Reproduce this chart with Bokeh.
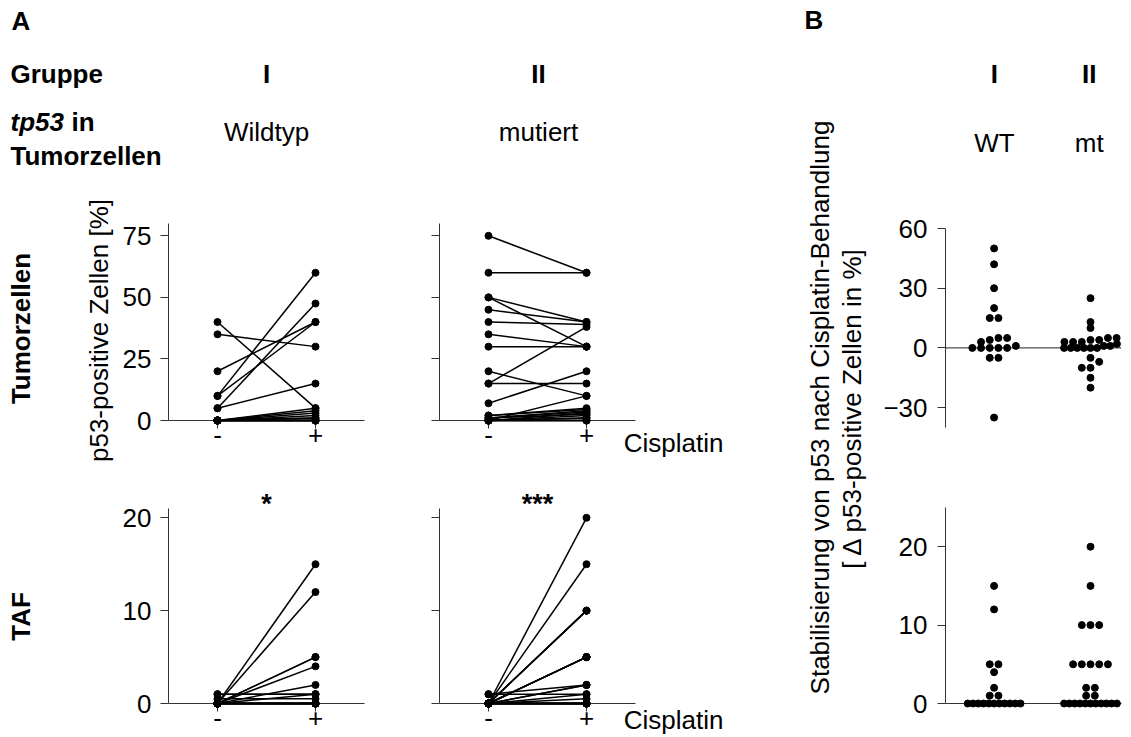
import math
from bokeh.plotting import figure
from bokeh.layouts import row, column
from bokeh.models import Range1d, FixedTicker, Span, ColumnDataSource
from bokeh.core.properties import value
from bokeh.embed import file_html
from bokeh.resources import INLINE

FONT = "Liberation Sans"

# ---------------- data ----------------
conditions = ["-", "+"]
groups = ["I", "II"]
group_tp53 = ["Wildtyp", "mutiert"]
group_short = ["WT", "mt"]

tumor_wt_before = [40, 35, 20, 10, 10, 5, 5, 0, 0, 0, 0, 0, 0, 0, 0, 0, 0, 0, 0]
tumor_wt_after = [5, 30, 40, 60, 40, 47.5, 15, 5, 4, 3, 2, 1, 1, 0, 0, 0, 0, 0, 0]
tumor_mt_before = [75, 60, 50, 50, 45, 40, 35, 30, 20, 15, 15, 7, 2, 2, 1, 1, 1, 0, 0, 0, 0, 0, 0, 0, 0]
tumor_mt_after = [60, 60, 40, 30, 40, 39, 30, 30, 10, 38, 15, 20, 5, 4.5, 3.5, 4, 2.5, 10, 3, 2, 1, 1, 0, 0, 0]
taf_wt_before = [0, 0, 0, 0, 0, 0, 0, 1, 1, 0.5, 0, 0, 0, 0, 0, 0, 0, 0, 0]
taf_wt_after = [15, 12, 5, 5, 4, 2, 1, 1, 1, 0.5, 0, 0, 0, 0, 0, 0, 0, 0, 0]
taf_mt_before = [0, 0, 0, 0, 0, 0, 0, 0, 0, 0, 0, 0, 1, 0, 1, 0, 0, 0, 0, 0, 0, 0, 0, 0, 0]
taf_mt_after = [20, 15, 10, 10, 10, 5, 5, 5, 5, 5, 2, 2, 1, 1, 2, 0.5, 0, 0, 0, 0, 0, 0, 0, 0, 0]

delta_tumor_wt = [50, 42, 30, 20, 15, 15, 5, 5, 4, 3, 1, 0, 0, 0, 0, 0, -5, -5, -35]
delta_tumor_mt = [25, 13, 10, 5, 5, 4, 4, 3, 3, 3, 2, 1, 1, 0, 0, 0, 0, 0, 0, -5, -7, -10, -10, -15, -20]
delta_taf_wt = [15, 12, 5, 5, 4, 2, 1, 1, 0, 0, 0, 0, 0, 0, 0, 0, 0, 0, 0]
delta_taf_mt = [20, 15, 10, 10, 10, 5, 5, 5, 5, 5, 2, 2, 1, 1, 0, 0, 0, 0, 0, 0, 0, 0, 0, 0, 0]

significance = ["*", "***"]

tumor_ticks = [0, 25, 50, 75]
taf_ticks = [0, 10, 20]
delta_tumor_ticks = [-30, 0, 30, 60]
delta_taf_ticks = [0, 10, 20]

AXC = "#333333"
ROT = math.pi / 2
BASE_FIX = 10  # the text glyph draws "alphabetic" text about this many px lower than its anchor


def text_canvas(x0, x1, y0, y1, bl=0, br=0):
    # frame coordinates equal page pixels (y negated so the range is not inverted)
    p = figure(width=x1 - x0 + bl + br, height=y1 - y0, x_range=Range1d(x0, x1), y_range=Range1d(-y1, -y0),
               output_backend="svg", toolbar_location=None, title=None,
               min_border_left=bl, min_border_right=br, min_border_top=0, min_border_bottom=0,
               x_axis_type=None, y_axis_type=None)
    p.outline_line_color = None
    return p


def put(p, x, y, s, size=26, style="normal", align="left", angle=0.0, baseline="alphabetic"):
    if baseline == "alphabetic":
        y -= BASE_FIX
    p.text(x=[x], y=[-y], text=[s], text_font=value(FONT), text_font_size=f"{size}px",
           text_font_style=style, text_align=align, text_baseline=baseline,
           angle=angle, text_color="black")


def free_text(p, x, y, s, size=26, style="normal", align="left"):
    # text glyph drawn on the overlay level so that it is not clipped to the frame
    r = p.text(x=[x], y=[y], text=[s], text_font=value(FONT), text_font_size=f"{size}px",
               text_font_style=style, text_align=align, text_baseline="alphabetic", text_color="black")
    r.level = "overlay"
    return r


def style_axes(p):
    p.grid.visible = False
    p.outline_line_color = None
    for ax in p.axis:
        ax.axis_line_color = AXC
        ax.axis_line_width = 1
        ax.major_tick_line_color = AXC
        ax.major_tick_out = 8
        ax.major_tick_in = 0
        ax.minor_tick_line_color = None
        ax.major_label_text_font = FONT
        ax.major_label_text_font_size = "26px"
        ax.major_label_text_color = "black"


def paired_panel(before, after, yr, ticks, width, height, mb, show_labels):
    p = figure(width=width, height=height, x_range=Range1d(-0.5, 1.5), y_range=Range1d(*yr),
               output_backend="svg", toolbar_location=None, title=None,
               min_border_left=mb[0], min_border_right=mb[1], min_border_top=mb[2],
               min_border_bottom=mb[3])
    style_axes(p)
    src = ColumnDataSource(dict(x0=[0] * len(before), x1=[1] * len(after), b=before, a=after))
    seg = p.segment(x0="x0", y0="b", x1="x1", y1="a", source=src, line_color="black", line_width=1.5)
    s1 = p.scatter(x="x0", y="b", source=src, size=7, color="black")
    s2 = p.scatter(x="x1", y="a", source=src, size=7, color="black")
    for r in (seg, s1, s2):
        r.level = "overlay"
    p.xaxis.ticker = FixedTicker(ticks=[0, 1])
    p.xaxis.major_label_overrides = {0: conditions[0], 1: conditions[1]}
    p.xaxis.major_label_standoff = -3
    p.yaxis.ticker = FixedTicker(ticks=ticks)
    p.yaxis.major_label_standoff = 9
    if not show_labels:
        p.yaxis.major_label_overrides = {t: "" for t in ticks}
    return p


def row_offsets(vals, px_y, px_x, bin_px=9.0, sp=8.9, max_w=54.0):
    # column scatter: values grouped into rows, each row centred on its category
    bins = {}
    for i, v in enumerate(vals):
        bins.setdefault(round(v * px_y / bin_px), []).append(i)
    offs = [0.0] * len(vals)
    for idx in bins.values():
        idx = sorted(idx, key=lambda i: vals[i])
        n = len(idx)
        step = sp if n < 2 else min(sp, max_w / (n - 1))
        for k, i in enumerate(idx):
            offs[i] = (k - (n - 1) / 2) * step / px_x
    return offs


BX0, BX1 = -0.504, 1.3215


def delta_panel(wt, mt, yr, ticks, height, mb, zero_axis):
    p = figure(width=251, height=height, x_range=Range1d(BX0, BX1), y_range=Range1d(*yr),
               output_backend="svg", toolbar_location=None, title=None,
               min_border_left=mb[0], min_border_right=mb[1], min_border_top=mb[2],
               min_border_bottom=mb[3])
    style_axes(p)
    frame_h = height - mb[2] - mb[3]
    frame_w = 251 - mb[0] - mb[1]
    px_y = frame_h / (yr[1] - yr[0])
    px_x = frame_w / (BX1 - BX0)
    xs, ys = [], []
    for gi, vals in enumerate((wt, mt)):
        offs = row_offsets(vals, px_y, px_x)
        xs += [gi + o for o in offs]
        ys += list(vals)
    if zero_axis:
        p.xaxis.visible = False
        p.add_layout(Span(location=0, dimension="width", line_color="#222222", line_width=1))
    else:
        p.xaxis.ticker = FixedTicker(ticks=[0, 1])
        p.xaxis.major_label_overrides = {0: "", 1: ""}
        p.xaxis.major_tick_out = 0
    r = p.scatter(x=xs, y=ys, size=7, color="black")
    r.level = "overlay"
    p.yaxis.ticker = FixedTicker(ticks=ticks)
    p.yaxis.major_label_standoff = 10
    return p


# ---------------- header / label canvases ----------------
headL = text_canvas(0, 800, 0, 200)
put(headL, 11, 30, "A", style="bold")
put(headL, 10, 83, "Gruppe", style="bold")
put(headL, 266, 83, groups[0], style="bold", align="center")
put(headL, 538, 83, groups[1], style="bold", align="center")
put(headL, 10, 131, "tp53", style="bold italic")
put(headL, 71, 131, "in", style="bold")
put(headL, 10, 165, "Tumorzellen", style="bold")
put(headL, 266, 141, group_tp53[0], align="center")
put(headL, 538, 141, group_tp53[1], align="center")

headR = text_canvas(941, 1121, 0, 200, bl=61, br=10)
put(headR, 991, 83, groups[0], style="bold", align="center")
put(headR, 1088, 83, groups[1], style="bold", align="center")
put(headR, 991, 152, group_short[0], align="center")
put(headR, 1088, 152, group_short[1], align="center")

mid = text_canvas(800, 880, 0, 737)
put(mid, 804, 29, "B", style="bold")
put(mid, 819, 407, "Stabilisierung von p53 nach Cisplatin-Behandlung", align="center", angle=ROT,
    baseline="middle")
put(mid, 851, 407, "[ \u0394 p53-positive Zellen in %]", align="center", angle=ROT, baseline="middle")

lab = text_canvas(0, 118, 200, 737)
put(lab, 20, 328, "Tumorzellen", style="bold", align="center", angle=ROT, baseline="middle")
put(lab, 20, 616, "TAF", style="bold", align="center", angle=ROT, baseline="middle")
put(lab, 98, 330, "p53-positive Zellen [%]", align="center", angle=ROT, baseline="middle")

# ---------------- panels A ----------------
A1 = paired_panel(tumor_wt_before, tumor_wt_after, (0, 80), tumor_ticks, 272, 270, (50, 26, 23, 50), True)
A2 = paired_panel(tumor_mt_before, tumor_mt_after, (0, 80), tumor_ticks, 410, 270, (49, 165, 23, 50), False)
A3 = paired_panel(taf_wt_before, taf_wt_after, (0, 21), taf_ticks, 272, 267, (50, 26, 38, 34), True)
A4 = paired_panel(taf_mt_before, taf_mt_after, (0, 21), taf_ticks, 410, 267, (49, 165, 38, 34), False)

free_text(A2, 1.38, -9.3, "Cisplatin")
free_text(A4, 1.38, -1.8, "Cisplatin")
free_text(A3, 0.5, 21.5, significance[0], size=27, style="bold", align="center")
free_text(A4, 0.5, 21.5, significance[1], size=27, style="bold", align="center")

# ---------------- panels B ----------------
B1 = delta_panel(delta_tumor_wt, delta_tumor_mt, (-40, 60), delta_tumor_ticks, 270, (61, 10, 28, 43), True)
B2 = delta_panel(delta_taf_wt, delta_taf_mt, (0, 25), delta_taf_ticks, 267, (61, 10, 37, 34), False)

left = column(headL, row(lab, column(A1, A3), column(A2, A4)))
right = column(headR, B1, B2)
root = row(left, mid, right)

open("out.html", "w").write(file_html(root, INLINE))
